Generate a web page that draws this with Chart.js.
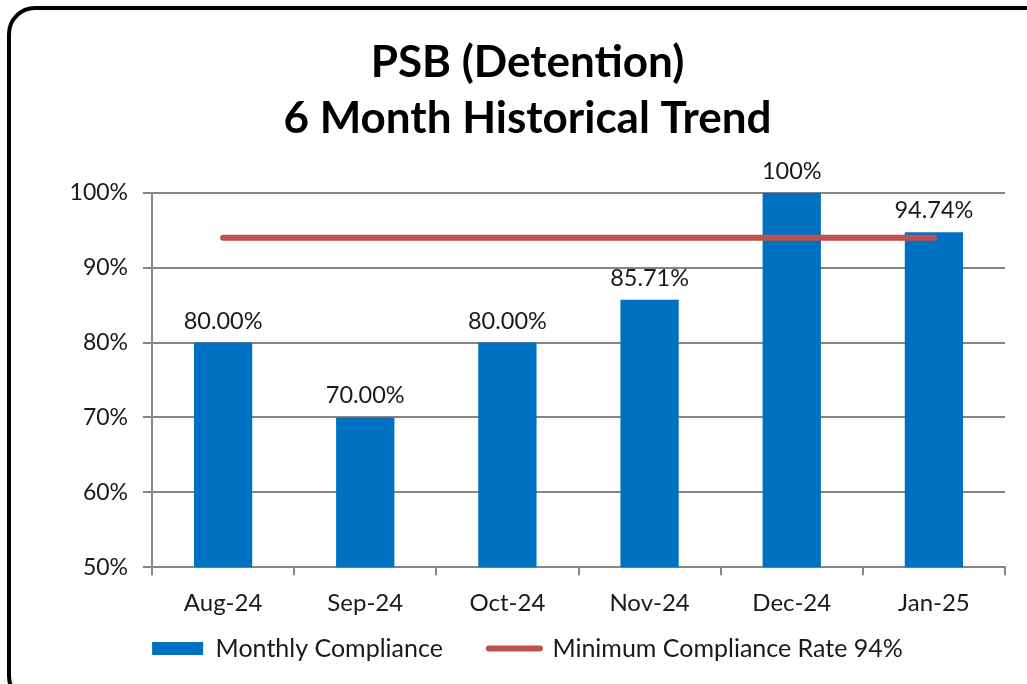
<!DOCTYPE html>
<html>
<head>
<meta charset="utf-8">
<script src="https://cdn.jsdelivr.net/npm/chart.js@4.4.1/dist/chart.umd.min.js"></script>
<style>
  html, body { margin: 0; padding: 0; background: #fff; overflow: hidden; }
  #wrap { position: relative; width: 1027px; height: 684px; }
  #frame {
    position: absolute; left: 7px; top: 6px; width: 1040px; height: 690px;
    border: 4px solid #000; border-radius: 28px; pointer-events: none;
  }
</style>
</head>
<body>
<div id="wrap">
  <canvas id="chart" width="1027" height="684"></canvas>
  <div id="frame"></div>
</div>
<script>
// ============ DATOS ============
const months = ['Aug-24', 'Sep-24', 'Oct-24', 'Nov-24', 'Dec-24', 'Jan-25'];
const compliance = [80.00, 70.00, 80.00, 85.71, 100, 94.74];
const complianceLabels = ['80.00%', '70.00%', '80.00%', '85.71%', '100%', '94.74%'];
const minimumRate = [94, 94, 94, 94, 94, 94];
const titleLines = ['PSB (Detention)', '6 Month Historical Trend'];

const FONT = 'Lato, "Open Sans", sans-serif';
const TEXT = '#1a1a1a';
const GRID = '#868686';

// etiquetas encima de las barras
const barLabels = {
  id: 'barLabels',
  afterDatasetsDraw(chart) {
    const meta = chart.getDatasetMeta(0);
    const ctx = chart.ctx;
    ctx.save();
    ctx.font = '23.5px ' + FONT;
    ctx.fillStyle = TEXT;
    ctx.textAlign = 'center';
    ctx.textBaseline = 'alphabetic';
    meta.data.forEach((bar, i) => {
      ctx.fillText(complianceLabels[i], bar.x, bar.y - 14);
    });
    ctx.restore();
  }
};

// sube la leyenda para dejar el hueco ancho entre elementos sin empujar el eje
const legendLift = {
  id: 'legendLift',
  afterLayout(chart) {
    const lg = chart.legend;
    if (lg) { lg.top -= 42; lg.bottom -= 42; }
  }
};

new Chart(document.getElementById('chart'), {
  data: {
    labels: months,
    datasets: [
      { type: 'bar', label: 'Monthly Compliance', data: compliance, order: 1,
        backgroundColor: '#0070C0', borderWidth: 0,
        categoryPercentage: 1.0, barPercentage: 0.41 },
      { type: 'line', label: 'Minimum Compliance Rate 94%', data: minimumRate, order: 0,
        borderColor: '#C0504D', backgroundColor: '#C0504D', borderWidth: 6,
        borderCapStyle: 'round', pointRadius: 0, pointHoverRadius: 0, tension: 0 }
    ]
  },
  options: {
    responsive: false, animation: false,
    layout: { padding: { left: 50, right: 22, top: 0, bottom: -29 } },
    plugins: {
      title: {
        display: true, text: titleLines, color: '#000',
        font: { family: FONT, size: 44, weight: 'bold', lineHeight: 1.27 },
        padding: { top: 35, bottom: 46 }
      },
      legend: {
        position: 'bottom',
        labels: {
          color: TEXT, font: { family: FONT, size: 25 },
          usePointStyle: true, boxHeight: 13, pointStyleWidth: 51, padding: 46,
          sort: (a, b) => a.datasetIndex - b.datasetIndex,
          generateLabels(chart) {
            return chart.data.datasets.map((ds, i) => ({
              text: ds.label, datasetIndex: i,
              fillStyle: ds.backgroundColor, strokeStyle: ds.type === 'line' ? ds.borderColor : ds.backgroundColor,
              lineWidth: ds.type === 'line' ? 6 : 0, lineCap: 'round',
              pointStyle: ds.type === 'line' ? 'line' : 'rect', fontColor: TEXT, hidden: false
            }));
          }
        }
      },
      tooltip: { enabled: false }
    },
    scales: {
      x: {
        grid: { display: true, drawOnChartArea: false, drawTicks: true, tickLength: 8, color: GRID, lineWidth: 2, offset: true },
        border: { display: true, color: GRID, width: 2 },
        ticks: { color: TEXT, font: { family: FONT, size: 24 }, padding: 14 }
      },
      y: {
        min: 50, max: 100,
        afterFit(scale) { scale.width = 102; },
        grid: { color: GRID, lineWidth: 2, drawTicks: true, tickLength: 9 },
        border: { display: true, color: GRID, width: 2 },
        ticks: { stepSize: 10, color: TEXT, font: { family: FONT, size: 23 }, padding: 15,
                 callback: v => v + '%' }
      }
    }
  },
  plugins: [barLabels, legendLift]
});
</script>
</body>
</html>
